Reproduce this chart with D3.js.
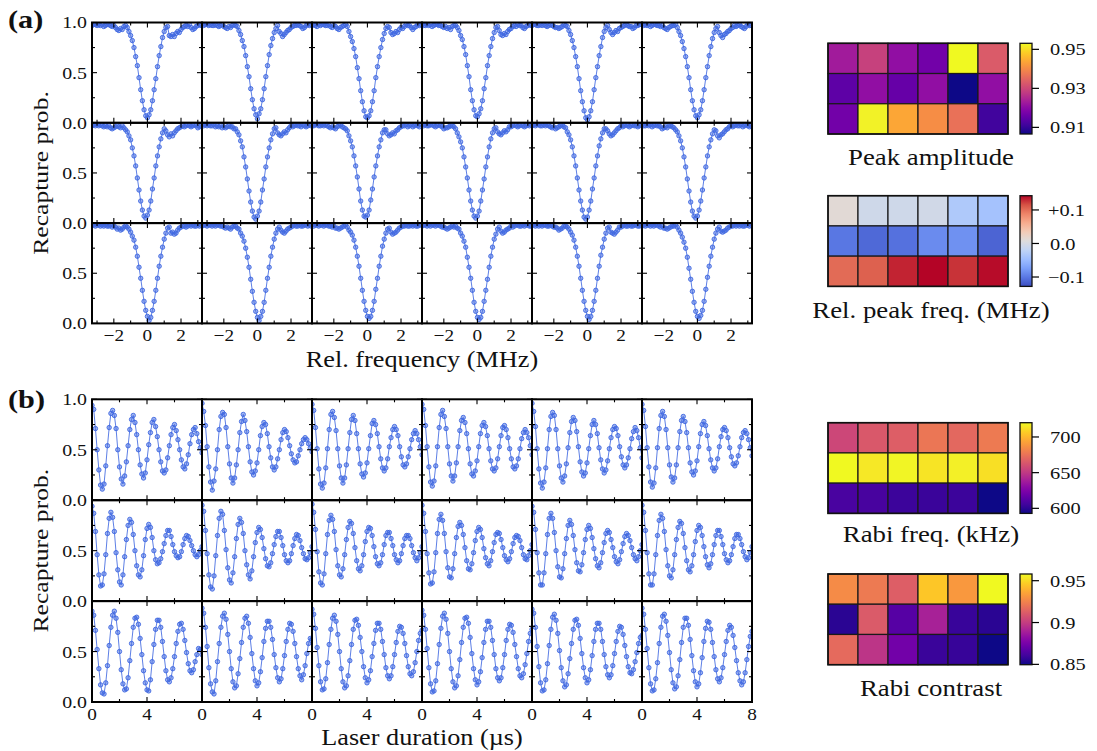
<!DOCTYPE html>
<html><head><meta charset="utf-8">
<script src="https://cdn.jsdelivr.net/npm/d3@7"></script>
<style>
body{margin:0;background:#fff}
svg{display:block}
text{fill:#111}
</style>
</head><body>
<svg id="c" width="1097" height="751"></svg>
<script>
// ---------------- DATA ----------------
const freqs = [-3.3,-3.2,-3.1,-3.0,-2.9,-2.8,-2.7,-2.6,-2.5,-2.4,-2.3,-2.2,-2.1,-2.0,-1.9,-1.8,-1.7,-1.6,-1.5,-1.4,-1.3,-1.2,-1.1,-1.0,-0.9,-0.8,-0.7,-0.6,-0.5,-0.4,-0.3,-0.2,-0.1,0.0,0.1,0.2,0.3,0.4,0.5,0.6,0.7,0.8,0.9,1.0,1.1,1.2,1.3,1.4,1.5,1.6,1.7,1.8,1.9,2.0,2.1,2.2,2.3,2.4,2.5,2.6,2.7,2.8,2.9,3.0,3.1,3.2];
const times = [0,0.125,0.25,0.375,0.5,0.625,0.75,0.875,1,1.125,1.25,1.375,1.5,1.625,1.75,1.875,2,2.125,2.25,2.375,2.5,2.625,2.75,2.875,3,3.125,3.25,3.375,3.5,3.625,3.75,3.875,4,4.125,4.25,4.375,4.5,4.625,4.75,4.875,5,5.125,5.25,5.375,5.5,5.625,5.75,5.875,6,6.125,6.25,6.375,6.5,6.625,6.75,6.875,7,7.125,7.25,7.375,7.5,7.625,7.75,7.875,8];

// recapture probability (%) of each spectrum, rows of 6 panels
const spectraRow1 = [
 [97,98,98,97,98,97,98,96,97,98,98,97,96,97,95,93,92,94,93,96,97,95,91,87,82,75,66,57,45,33,22,13,7,5,8,13,22,33,44,56,67,76,85,91,95,96,87,86,88,86,89,91,90,93,95,96,97,96,98,95,93,94,96,97,98,97],
 [98,97,98,98,97,98,97,97,98,97,96,97,98,96,95,94,96,95,97,98,97,96,92,88,82,76,67,56,46,34,23,14,8,4,9,14,23,34,46,57,68,77,84,90,94,97,91,89,86,88,90,92,93,95,96,97,97,98,97,96,94,95,97,98,97,98],
 [97,98,97,96,98,97,98,98,97,97,98,96,95,97,96,94,93,95,96,97,98,96,91,86,81,74,66,55,44,32,21,12,6,5,7,12,21,32,45,56,66,75,83,89,94,96,95,90,88,89,91,90,93,95,94,96,98,97,97,95,93,95,96,98,97,98],
 [98,97,97,98,97,98,96,97,98,98,97,97,96,95,96,94,95,93,96,97,97,95,92,87,83,76,68,57,46,33,22,13,7,6,9,14,22,34,45,57,67,76,84,90,95,96,92,88,87,89,88,91,93,94,96,97,96,98,97,97,95,94,96,97,98,97],
 [97,98,98,97,97,98,97,98,97,96,97,98,97,96,95,95,94,95,96,98,97,96,92,88,82,75,66,56,44,32,21,12,5,3,6,12,21,33,45,56,67,76,85,91,95,97,93,90,88,90,92,91,94,95,96,97,98,97,96,96,94,95,97,97,98,98],
 [98,97,98,97,98,96,97,98,98,97,97,96,97,95,94,93,95,96,97,97,98,95,91,87,81,74,66,56,45,33,22,13,7,5,8,13,22,33,45,56,67,76,84,90,94,96,90,87,85,88,89,91,92,94,95,97,96,97,98,96,95,94,96,98,97,97]
];
const spectraRow2 = [
 [97,98,97,98,97,98,97,96,97,96,97,95,94,95,96,97,96,95,97,95,93,91,87,83,75,67,57,45,33,22,13,7,5,8,13,22,34,45,57,67,76,84,90,94,92,88,86,89,87,90,92,94,95,96,97,96,97,98,97,96,97,98,97,95,96,97],
 [98,97,98,97,98,97,97,98,96,97,96,97,95,96,95,96,97,96,96,94,94,91,88,82,76,66,56,44,32,21,12,6,4,7,12,21,33,44,56,66,75,83,89,94,95,90,88,87,89,91,90,93,95,97,96,97,98,97,97,96,98,97,96,97,98,97],
 [97,97,98,98,97,97,98,97,98,97,96,95,96,95,94,96,97,98,96,95,94,92,87,82,76,67,57,46,34,22,13,7,6,8,13,23,34,46,57,67,76,83,90,93,93,89,87,88,90,89,92,93,95,96,97,97,98,96,97,98,96,97,98,97,96,98],
 [98,97,98,97,97,98,98,97,96,97,98,97,96,94,95,95,96,97,97,96,94,90,86,81,75,66,56,45,33,22,13,7,5,7,12,22,33,44,56,66,76,84,90,94,95,91,89,88,90,92,91,93,96,96,97,98,97,96,97,98,97,96,97,98,97,98],
 [97,98,97,98,98,97,97,98,97,98,97,96,95,96,94,95,96,97,98,96,95,91,88,83,76,67,57,45,33,22,13,6,4,6,13,22,34,45,57,67,77,84,90,94,94,92,89,87,88,90,92,94,95,97,96,97,98,97,96,97,98,97,97,96,97,98],
 [98,97,97,98,97,98,96,97,98,97,97,96,94,95,96,95,97,97,96,95,93,91,87,82,75,66,56,44,32,21,12,7,5,7,13,22,33,45,56,67,76,83,89,93,92,87,85,88,89,91,93,94,96,97,96,97,98,97,97,98,96,97,98,97,96,97]
];
const spectraRow3 = [
 [98,98,97,98,98,97,98,97,98,97,97,98,96,97,96,94,95,93,94,96,97,96,94,91,87,83,76,67,56,45,33,22,13,7,3,6,13,22,33,45,57,67,76,84,90,95,96,90,91,89,90,93,95,96,97,97,96,97,98,97,98,97,97,98,97,98],
 [97,98,98,97,98,98,97,98,97,98,98,97,97,96,95,96,95,94,96,97,97,95,94,90,87,82,75,66,56,44,32,21,12,6,3,7,12,21,33,45,56,67,76,84,90,94,96,93,91,90,92,94,95,96,97,98,97,97,98,97,97,98,98,97,98,97],
 [98,97,98,98,97,98,98,97,98,98,97,97,96,97,95,95,94,95,96,97,98,96,93,91,88,83,76,67,57,45,33,22,13,7,5,7,13,22,34,45,57,67,77,84,90,94,95,91,89,90,91,93,95,96,97,97,98,97,97,98,97,98,97,97,98,98],
 [97,98,98,97,98,97,98,98,97,98,98,97,96,96,95,94,95,96,97,96,97,95,94,90,87,82,76,66,56,45,33,21,12,6,4,6,12,22,33,44,56,67,76,84,89,94,96,92,90,91,93,94,95,97,96,97,98,98,97,97,98,97,98,98,97,97],
 [98,98,97,98,97,98,97,98,98,97,97,98,97,96,96,95,93,94,95,97,97,96,94,91,88,83,76,67,57,45,33,22,13,7,4,7,13,22,33,45,57,68,76,84,90,95,96,91,90,89,91,93,96,96,97,98,97,97,98,97,97,98,98,97,97,98],
 [97,98,97,98,98,97,98,97,98,98,97,96,97,95,95,94,95,96,97,97,98,96,93,90,86,81,75,66,55,44,32,21,12,7,5,8,13,22,34,46,57,67,76,84,90,94,96,92,91,92,93,95,96,97,97,98,97,98,97,98,97,97,98,98,97,98]
];

// recapture probability (%) of each Rabi trace, rows of 6 panels
const rabiRow1 = [
 [94,90,71,50,30,15,11,16,34,54,72,86,89,84,71,50,33,21,16,24,38,54,70,80,84,77,65,50,35,26,22,27,40,55,67,77,80,73,63,50,38,29,27,30,42,54,65,72,75,69,60,50,40,33,31,36,45,56,65,70,72,66,58,52,47],
 [96,88,74,53,33,18,10,19,31,50,70,83,87,85,72,53,36,22,17,22,35,50,67,78,85,79,68,53,38,28,25,29,37,50,64,73,77,75,66,53,42,33,30,33,41,50,60,67,70,68,62,54,46,40,37,38,44,50,56,60,62,60,56,52,48],
 [95,89,72,51,31,16,12,17,32,51,70,85,88,82,69,51,34,22,17,22,35,51,67,80,84,79,66,51,36,26,23,27,37,51,64,76,79,75,66,53,41,32,29,32,41,53,62,70,73,70,64,53,43,35,33,36,43,51,60,66,69,66,60,53,45],
 [95,90,74,53,33,18,14,19,34,53,72,85,89,83,71,53,36,24,19,24,37,53,69,79,82,77,66,51,36,26,24,29,39,53,66,74,77,73,64,51,39,31,29,32,41,53,64,72,74,70,62,51,41,33,31,34,41,51,61,67,70,67,62,54,45],
 [96,88,73,51,31,17,12,18,32,51,70,83,87,84,70,51,34,22,18,24,36,52,67,78,82,79,68,53,38,28,24,27,37,51,64,75,79,75,66,52,40,31,27,30,39,51,62,70,73,71,64,53,43,35,32,35,42,51,61,68,72,69,62,52,42],
 [95,89,73,52,33,18,13,17,32,52,71,84,88,83,70,52,35,23,18,22,35,52,68,79,83,78,67,52,37,28,25,29,39,53,66,75,78,74,64,51,40,32,29,32,41,53,63,70,72,69,62,52,43,36,34,37,44,53,62,67,69,66,60,52,44]
];
const rabiRow2 = [
 [94,87,69,46,26,15,16,27,46,67,82,88,83,69,48,31,19,16,26,44,61,75,81,78,66,50,35,26,24,31,45,61,72,76,73,63,50,41,37,38,42,49,57,65,70,70,64,56,49,45,43,44,49,56,62,65,64,60,55,50,46,44,46,50,54],
 [95,89,70,47,26,14,12,25,45,65,82,89,86,70,51,33,21,18,28,44,62,76,82,78,67,50,36,26,22,30,44,58,68,73,71,63,52,42,35,34,38,47,56,64,69,69,63,55,46,40,38,40,47,55,62,66,65,60,53,47,42,41,43,48,54],
 [96,88,71,49,29,18,16,27,47,66,80,85,81,69,51,35,26,24,32,46,61,73,79,77,67,53,40,32,30,35,46,59,69,73,72,65,54,44,37,35,38,46,56,65,68,68,62,55,46,41,38,40,47,55,62,65,65,62,55,48,43,40,43,48,54],
 [95,87,69,47,28,17,18,29,48,67,81,86,80,67,49,33,24,23,32,47,63,74,78,75,66,53,40,32,31,37,48,60,69,73,71,63,52,43,37,35,40,49,58,66,68,67,61,53,45,41,39,42,49,57,63,65,64,60,53,46,42,41,45,50,56],
 [94,88,71,48,28,16,16,28,47,66,82,87,82,68,50,34,24,23,32,47,62,75,80,76,65,51,38,30,29,36,48,61,71,75,72,63,52,42,35,33,38,48,58,67,70,68,61,53,44,39,37,41,49,57,64,67,65,60,53,46,42,40,44,50,56],
 [95,88,70,48,27,16,16,27,46,65,80,86,82,69,51,35,25,23,31,46,61,73,79,77,67,53,40,31,29,35,46,59,70,75,73,65,54,44,36,33,37,46,56,65,70,70,64,56,47,41,38,40,46,54,62,66,66,62,56,49,44,41,43,48,54]
];
const rabiRow3 = [
 [90,86,71,52,33,17,9,8,19,36,56,74,86,90,83,69,50,32,18,12,13,24,41,58,74,83,84,77,63,47,31,19,12,11,22,40,57,72,81,81,74,60,45,31,22,20,24,33,45,58,70,77,78,72,61,49,38,31,29,32,40,47,53,52,47],
 [93,88,74,55,34,18,10,8,21,40,58,74,85,88,82,67,50,33,20,14,16,28,43,59,74,83,85,78,64,48,33,21,16,19,30,44,60,73,80,80,74,62,47,34,24,20,23,33,46,60,72,78,77,70,58,45,33,26,22,27,36,48,58,63,62],
 [92,87,73,54,36,20,12,13,23,39,57,72,83,86,80,67,50,33,20,14,16,26,41,57,72,81,82,76,64,50,35,24,19,22,31,45,58,71,78,78,72,60,47,34,26,23,26,35,47,59,70,75,74,68,58,46,35,28,26,30,39,50,61,68,71],
 [91,86,72,53,34,18,10,11,21,38,57,73,85,88,82,68,50,33,20,14,16,26,42,59,74,83,84,78,64,48,33,22,17,20,30,44,59,72,80,80,74,61,47,33,24,21,24,34,47,61,72,77,76,69,57,45,33,26,24,28,37,48,60,68,72],
 [92,88,74,55,35,19,11,12,22,38,56,72,84,87,81,68,51,34,21,15,17,28,43,58,72,81,82,76,63,48,34,24,19,22,32,46,60,72,78,78,72,60,47,35,27,24,27,36,48,60,70,75,74,67,56,45,35,29,28,32,40,49,58,64,66],
 [93,87,72,53,34,18,11,12,23,39,58,74,85,87,80,66,49,32,19,13,15,26,42,59,74,83,83,76,62,46,31,20,15,18,29,44,60,73,80,79,72,59,45,32,23,20,24,34,47,60,71,76,74,66,54,41,29,21,17,20,29,42,55,65,70]
];

// ticks
const probTicks = [0, 50, 100];
const probTickLabels = ["0.0", "0.5", "1.0"];
const probMinor = [25, 75];
const freqTicks = [-2, 0, 2];
const freqTickLabels = ["\u22122", "0", "2"];
const freqMinor = [-3, -1, 1, 3];
const freqDomain = [-3.3, 3.25];
const timeTicks = [0, 4, 8];
const timeTickLabels = ["0", "4", "8"];
const timeMinor = [2, 6];
const timeDomain = [0, 8];

// heatmaps (3 rows x 6 columns)
const peakAmplitude = [
 [0.9229,0.9289,0.9206,0.9168,0.9531,0.9331],
 [0.9145,0.9206,0.9155,0.9206,0.9066,0.9206],
 [0.9168,0.9522,0.9438,0.9405,0.9364,0.9113]
];
const peakFreq = [
 [0.0127,-0.0063,-0.0063,-0.0050,-0.0333,-0.0414],
 [-0.101,-0.110,-0.105,-0.0874,-0.0834,-0.1131],
 [0.102,0.1073,0.1317,0.1425,0.1263,0.1398]
];
const rabiFreq = [
 [656.5,664,666.6,676.8,670.4,678],
 [720,715,718.7,713.6,717.5,712.4],
 [608.2,607.5,604.3,603.7,604,592.9]
];
const rabiContrast = [
 [0.9276,0.9222,0.9125,0.945,0.932,0.958],
 [0.855,0.9114,0.8659,0.8897,0.8583,0.855],
 [0.9168,0.8973,0.8734,0.8588,0.8577,0.8496]
];
const cbDomains = [[0.9066,0.9531],[-0.128,0.1425],[592.9,720],[0.8496,0.958]];
const cbTicks = [[0.91,0.93,0.95],[-0.1,0,0.1],[600,650,700],[0.85,0.9,0.95]];
const cbTickLabels = [["0.91","0.93","0.95"],["\u22120.1","0.0","+0.1"],["600","650","700"],["0.85","0.9","0.95"]];
const hmTitles = ["Peak amplitude","Rel. peak freq. (MHz)","Rabi freq. (kHz)","Rabi contrast"];
const coolwarmStops = ["#3b4cc0","#5977e3","#7b9ff9","#9ebeff","#c0d4f5","#dddcdc","#f2cbb7","#f7ac8e","#ee8468","#d65244","#b40426"];

// ---------------- FONT ----------------
function hasFont(name){
  const ctx = document.createElement("canvas").getContext("2d");
  const s = "Recapture prob. 0123 Wmi";
  ctx.font = "40px monospace"; const a = ctx.measureText(s).width;
  ctx.font = `40px "${name}", monospace`; const b = ctx.measureText(s).width;
  return Math.abs(a-b) > 0.5;
}
const fontFamily = ["Liberation Serif","DejaVu Serif","Noto Serif"].find(hasFont) || "serif";

// ---------------- DRAW ----------------
const svg = d3.select("#c").style("font-family", `"${fontFamily}", serif`);
const blue = "#4169e1";
const gridLeft = 92, panelW = 110;

function drawGrid(cfg){
  const g = svg.append("g");
  cfg.rows.forEach((row, r) => {
    row.forEach((vals, c) => {
      const x0 = gridLeft + c*panelW, x1 = x0 + panelW;
      const y0 = cfg.top + r*cfg.rowH, y1 = y0 + cfg.rowH;
      const xs = d3.scaleLinear().domain(cfg.xDomain).range([x0, x1]);
      const ys = d3.scaleLinear().domain([0,100]).range([y1, y0]);
      const id = cfg.id + r + "_" + c;
      svg.append("clipPath").attr("id", id).append("rect")
        .attr("x", x0).attr("y", y0).attr("width", panelW).attr("height", cfg.rowH);
      const pg = g.append("g").attr("clip-path", `url(#${id})`);
      const pts = cfg.xVals.map((x,i)=>[x, vals[i]]);
      pg.append("path").datum(pts)
        .attr("d", d3.line().x(d=>xs(d[0])).y(d=>ys(d[1])))
        .attr("fill","none").attr("stroke",blue).attr("stroke-width",1).attr("stroke-opacity",0.85);
      pg.selectAll("circle").data(pts).join("circle")
        .attr("cx", d=>xs(d[0])).attr("cy", d=>ys(d[1])).attr("r", 2.2)
        .attr("fill", blue).attr("fill-opacity", 0.5)
        .attr("stroke", blue).attr("stroke-width", 0.9);
      const tg = g.append("g").attr("stroke","#000").attr("stroke-width",1.1);
      const addX = (vs, len) => vs.forEach(v => {
        tg.append("line").attr("x1",xs(v)).attr("x2",xs(v)).attr("y1",y1).attr("y2",y1-len);
        tg.append("line").attr("x1",xs(v)).attr("x2",xs(v)).attr("y1",y0).attr("y2",y0+len);
      });
      const addY = (vs, len) => vs.forEach(v => {
        tg.append("line").attr("y1",ys(v)).attr("y2",ys(v)).attr("x1",x0).attr("x2",x0+len);
        tg.append("line").attr("y1",ys(v)).attr("y2",ys(v)).attr("x1",x1).attr("x2",x1-len);
      });
      addX(cfg.xMajor, 5); addX(cfg.xMinor, 3);
      addY(probTicks, 5); addY(probMinor, 3);
      g.append("rect").attr("x",x0).attr("y",y0).attr("width",panelW).attr("height",cfg.rowH)
        .attr("fill","none").attr("stroke","#000").attr("stroke-width",2);
      if (c === 0) {
        probTicks.forEach((v,i) => {
          if (r > 0 && v === 100) return;
          g.append("text").attr("x", x0-5).attr("y", ys(v)).attr("dy","0.35em")
            .attr("text-anchor","end").attr("font-size",17).text(probTickLabels[i]);
        });
      }
      if (r === cfg.rows.length-1) {
        cfg.xMajor.forEach((v,i) => {
          if (cfg.lastOnly.includes(v) && c !== row.length-1) return;
          g.append("text").attr("x", xs(v)).attr("y", y1+18)
            .attr("text-anchor","middle").attr("font-size",16.5).text(cfg.xLabels[i]);
        });
      }
    });
  });
  const midY = cfg.top + cfg.rows.length*cfg.rowH/2;
  g.append("text").attr("transform",`translate(48,${midY}) rotate(-90)`)
    .attr("text-anchor","middle").attr("font-size",22).text("Recapture prob.");
  g.append("text").attr("x", gridLeft + 3*panelW).attr("y", cfg.xTitleY)
    .attr("text-anchor","middle").attr("font-size",22.5).text(cfg.xTitle);
  g.append("text").attr("x",8).attr("y",cfg.tagY).attr("font-size",26)
    .attr("font-weight","bold").text(cfg.tag);
}

drawGrid({id:"a", rows:[spectraRow1,spectraRow2,spectraRow3], xVals:freqs, top:22.5, rowH:100.3,
  xDomain:freqDomain, xMajor:freqTicks, xMinor:freqMinor, xLabels:freqTickLabels, lastOnly:[],
  xTitle:"Rel. frequency (MHz)", xTitleY:367, tag:"(a)", tagY:28});
drawGrid({id:"b", rows:[rabiRow1,rabiRow2,rabiRow3], xVals:times, top:399.3, rowH:100.9,
  xDomain:timeDomain, xMajor:timeTicks, xMinor:timeMinor, xLabels:timeTickLabels, lastOnly:[8],
  xTitle:"Laser duration (\u00b5s)", xTitleY:745, tag:"(b)", tagY:408});

// heatmaps
const plasma = d3.interpolatePlasma;
const coolwarm = d3.piecewise(d3.interpolateRgb, coolwarmStops);
const hmData = [peakAmplitude, peakFreq, rabiFreq, rabiContrast];
const hmInterp = [plasma, coolwarm, plasma, plasma];
const hmTops = [43.3, 195.7, 422.7, 574];
const hmTitleY = [164.5, 318, 542, 696];
const hmLeft = 828, hmW = 180, hmH = 90.7, cbX = 1020, cbW = 12;

hmData.forEach((data, k) => {
  const top = hmTops[k];
  const col = d3.scaleSequential(hmInterp[k]).domain(cbDomains[k]);
  const xb = d3.scaleBand().domain(d3.range(6)).range([hmLeft, hmLeft+hmW]);
  const yb = d3.scaleBand().domain(d3.range(3)).range([top, top+hmH]);
  const g = svg.append("g");
  data.forEach((row, r) => row.forEach((v, c) => {
    g.append("rect").attr("x", xb(c)).attr("y", yb(r)).attr("width", xb.bandwidth()).attr("height", yb.bandwidth())
      .attr("fill", col(v)).attr("stroke", "#1a1a1a").attr("stroke-width", 1.2);
  }));
  g.append("rect").attr("x",hmLeft).attr("y",top).attr("width",hmW).attr("height",hmH)
    .attr("fill","none").attr("stroke","#111").attr("stroke-width",1.6);
  const gid = "grad"+k;
  const grad = svg.append("defs").append("linearGradient").attr("id",gid)
    .attr("x1",0).attr("y1",1).attr("x2",0).attr("y2",0);
  d3.range(0, 1.0001, 0.05).forEach(t => grad.append("stop").attr("offset", t).attr("stop-color", hmInterp[k](t)));
  g.append("rect").attr("x",cbX).attr("y",top).attr("width",cbW).attr("height",hmH)
    .attr("fill",`url(#${gid})`).attr("stroke","#111").attr("stroke-width",1.3);
  const cy = d3.scaleLinear().domain(cbDomains[k]).range([top+hmH, top]);
  cbTicks[k].forEach((v,i) => {
    g.append("line").attr("x1",cbX+cbW).attr("x2",cbX+cbW+7).attr("y1",cy(v)).attr("y2",cy(v))
      .attr("stroke","#000").attr("stroke-width",1.2);
    g.append("text").attr("x", cbX+cbW+ (cbTickLabels[k][i].match(/^[\u2212+]/)?16:18)).attr("y", cy(v)).attr("dy","0.35em")
      .attr("font-size",17.5).text(cbTickLabels[k][i]);
  });
  g.append("text").attr("x", 931).attr("y", hmTitleY[k]).attr("text-anchor","middle")
    .attr("font-size",23).text(hmTitles[k]);
});

// widen glyphs to mimic the reference's Computer Modern proportions
const probe = svg.append("text").attr("font-size",23).text("Peak amplitude");
const stretch = 166 / probe.node().getComputedTextLength();
probe.remove();
svg.selectAll("text").each(function(){
  const w = this.getComputedTextLength();
  if (w > 0) { this.setAttribute("textLength", (w*stretch).toFixed(1)); this.setAttribute("lengthAdjust","spacingAndGlyphs"); }
});
</script>
</body></html>
